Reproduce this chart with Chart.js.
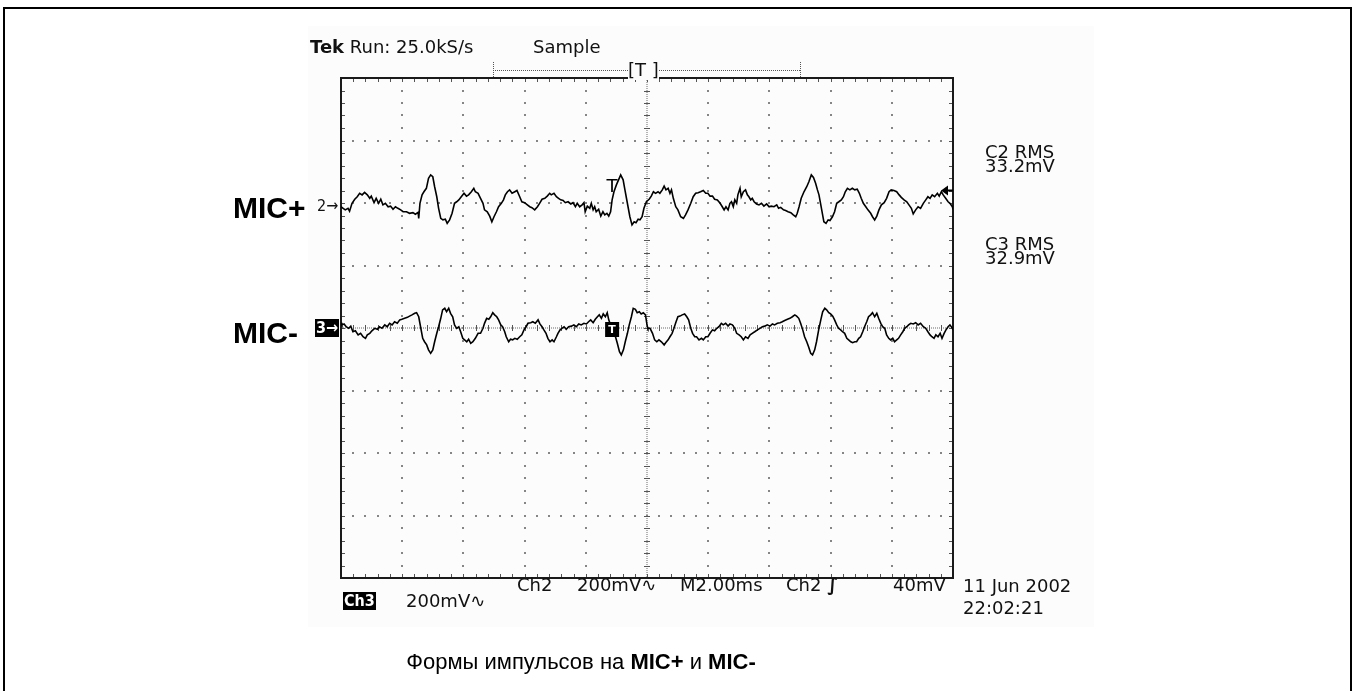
<!DOCTYPE html>
<html>
<head>
<meta charset="utf-8">
<script src="https://cdn.jsdelivr.net/npm/chart.js@4.4.0/dist/chart.umd.min.js"></script>
<style>
  html, body { margin: 0; padding: 0; background: #fff; }
  #wrap { position: relative; width: 1356px; height: 691px; overflow: hidden; }
  #frame { position: absolute; left: 3px; top: 7px; width: 1349px; height: 690px; border: 2px solid #000; box-sizing: border-box; }
  #screen { position: absolute; left: 308px; top: 26px; width: 786px; height: 601px; background: #fcfcfc; }
  #scope { position: absolute; left: 0; top: 0; }
  .t { position: absolute; font-family: "DejaVu Sans", sans-serif; font-size: 18px; line-height: 20px; color: #111; white-space: pre; }
  .b { font-weight: bold; }
  .inv { background: #000; color: #fff; font-family: "DejaVu Sans Condensed", "DejaVu Sans", sans-serif; font-weight: bold; font-size: 16px; line-height: 18px; padding: 0 1px; }
  .mk { font-family: "DejaVu Sans Condensed", "DejaVu Sans", sans-serif; font-size: 16px; }
  .mic { position: absolute; font-family: "Liberation Sans", Arial, sans-serif; font-weight: bold; font-size: 30px; line-height: 34px; color: #000; white-space: pre; }
  #caption { position: absolute; left: 0; width: 1162px; top: 648px; text-align: center; font-family: "Liberation Sans", Arial, sans-serif; font-size: 22px; line-height: 28px; color: #000; white-space: pre; }
  .rec { position: absolute; border-top: 1px dotted #555; }
  .recEnd { position: absolute; border-left: 1px dotted #555; }
</style>
</head>
<body>
<div id="wrap">
  <div id="frame"></div>
  <div id="screen"></div>
  <canvas id="scope" width="1356" height="691"></canvas>

  <div class="t" style="left:310px;top:37px;"><span class="b">Tek</span> Run: 25.0kS/s</div>
  <div class="t" style="left:533px;top:37px;">Sample</div>
  <div class="rec" style="left:493px;top:70px;width:307px;"></div>
  <div class="recEnd" style="left:493px;top:62px;height:15px;"></div>
  <div class="recEnd" style="left:800px;top:62px;height:15px;"></div>
  <div class="t" style="left:628px;top:60px;background:#fcfcfc;">[T ]</div>

  <div class="t" style="left:985px;top:145px;line-height:14px;">C2 RMS<br>33.2mV</div>
  <div class="t" style="left:985px;top:237px;line-height:14px;">C3 RMS<br>32.9mV</div>

  <div class="mic" style="left:233px;top:191px;">MIC+</div>
  <div class="t mk" style="left:317px;top:196px;">2→</div>
  <div class="mic" style="left:233px;top:316px;">MIC-</div>
  <div class="t inv" style="left:315px;top:319px;">3→</div>

  <div class="t" style="left:517px;top:575px;">Ch2</div>
  <div class="t" style="left:577px;top:575px;">200mV∿</div>
  <div class="t" style="left:680px;top:575px;">M2.00ms</div>
  <div class="t" style="left:786px;top:575px;">Ch2 <span class="b">∫</span></div>
  <div class="t" style="left:893px;top:575px;">40mV</div>
  <div class="t" style="left:963px;top:576px;">11 Jun 2002</div>
  <div class="t inv" style="left:343px;top:592px;">Ch3</div>
  <div class="t" style="left:406px;top:591px;">200mV∿</div>
  <div class="t" style="left:963px;top:598px;">22:02:21</div>

  <div id="caption">Формы импульсов на <b>MIC+</b> и <b>MIC-</b></div>
</div>

<script>
// Acquisition window: 10 divisions of 2 ms, 8 divisions of 200 mV
const MS_PER_DIV = 2;
const MV_PER_DIV = 200;
const X_DIVS = 10;
const Y_DIVS = 8;
const CH2_OFFSET_DIV = 2;   // Ch2 ground marker sits two divisions above centre
const TRIGGER_LEVEL_MV = 40;
const TRIGGER_MARK_MS = -1.14;

// Ch2 (MIC+) samples: [time ms, mV]
const ch2Trace = [
  [-10.00,-12],[-9.93,-17],[-9.86,-22],[-9.77,-17],[-9.72,-26],[-9.64,-1],[-9.55,12],[-9.47,20],[-9.39,31],[-9.31,26],
  [-9.23,34],[-9.14,26],[-9.06,15],[-9.01,22],[-8.92,1],[-8.85,15],[-8.77,-1],[-8.70,12],[-8.63,-6],[-8.55,-1],
  [-8.46,-12],[-8.38,-10],[-8.30,-20],[-8.22,-12],[-8.14,-17],[-8.05,-22],[-7.97,-28],[-7.86,-28],[-7.76,-33],[-7.65,-31],
  [-7.57,-36],[-7.48,-30],[-7.46,-49],[-7.42,-1],[-7.35,26],[-7.29,36],[-7.21,47],[-7.14,79],[-7.07,90],[-7.00,84],
  [-6.94,52],[-6.87,20],[-6.81,-17],[-6.74,-49],[-6.67,-54],[-6.59,-52],[-6.53,-65],[-6.45,-54],[-6.37,-33],[-6.29,-1],
  [-6.22,4],[-6.15,10],[-6.07,20],[-5.98,31],[-5.90,22],[-5.83,26],[-5.74,36],[-5.66,47],[-5.61,36],[-5.52,31],
  [-5.44,15],[-5.36,-1],[-5.31,-22],[-5.22,-28],[-5.14,-42],[-5.07,-60],[-5.00,-44],[-4.92,-28],[-4.85,-12],[-4.76,-1],
  [-4.69,10],[-4.63,26],[-4.56,36],[-4.49,42],[-4.41,31],[-4.32,36],[-4.25,40],[-4.16,20],[-4.09,4],[-4.00,1],
  [-3.91,-6],[-3.83,-12],[-3.76,-15],[-3.67,-22],[-3.58,-12],[-3.51,-1],[-3.43,12],[-3.34,15],[-3.26,22],[-3.18,31],
  [-3.13,26],[-3.04,31],[-2.96,20],[-2.89,15],[-2.82,10],[-2.74,8],[-2.67,1],[-2.58,4],[-2.49,-3],[-2.42,1],
  [-2.34,-12],[-2.28,-1],[-2.20,-12],[-2.12,-6],[-2.06,1],[-2.02,-28],[-1.95,-10],[-1.87,-17],[-1.82,-1],[-1.76,-22],
  [-1.71,-12],[-1.66,-28],[-1.58,-20],[-1.51,-42],[-1.44,-28],[-1.38,-38],[-1.31,-33],[-1.25,-42],[-1.19,-28],[-1.14,10],
  [-1.08,36],[-1.00,58],[-0.93,74],[-0.86,90],[-0.78,74],[-0.73,47],[-0.68,20],[-0.62,-12],[-0.56,-44],[-0.49,-70],
  [-0.42,-60],[-0.36,-63],[-0.29,-52],[-0.23,-54],[-0.16,-44],[-0.10,-17],[-0.02,4],
  [0.07,12],[0.14,22],[0.21,36],[0.28,31],[0.36,36],[0.42,31],[0.50,42],[0.56,54],[0.62,42],[0.69,47],
  [0.75,31],[0.80,42],[0.86,15],[0.94,-12],[1.01,-22],[1.10,-44],[1.19,-49],[1.26,-38],[1.34,-22],[1.43,-1],
  [1.51,20],[1.59,31],[1.67,33],[1.75,36],[1.84,40],[1.92,31],[1.99,31],[2.06,22],[2.14,22],[2.21,12],
  [2.30,10],[2.39,-1],[2.46,-12],[2.52,-22],[2.58,-12],[2.65,-22],[2.71,-1],[2.76,4],[2.82,-12],[2.87,10],
  [2.93,-1],[2.97,26],[3.04,47],[3.08,20],[3.15,36],[3.22,42],[3.28,26],[3.33,20],[3.39,10],[3.44,15],
  [3.50,4],[3.58,-3],[3.66,-6],[3.74,-1],[3.82,-10],[3.91,-3],[3.99,-12],[4.06,-10],[4.15,-12],[4.24,-6],
  [4.30,-17],[4.37,-14],[4.46,-22],[4.53,-24],[4.61,-28],[4.70,-31],[4.78,-38],[4.86,-44],[4.91,-33],[4.97,-12],
  [5.04,15],[5.13,36],[5.22,52],[5.29,68],[5.37,90],[5.44,82],[5.51,63],[5.57,42],[5.62,26],[5.68,-6],
  [5.73,-33],[5.78,-60],[5.85,-65],[5.92,-54],[5.98,-56],[6.06,-44],[6.13,-28],[6.20,-1],[6.27,4],[6.35,10],
  [6.42,20],[6.48,36],[6.55,47],[6.63,42],[6.71,47],[6.79,42],[6.87,44],[6.94,31],[7.00,15],[7.07,-1],
  [7.15,-12],[7.22,-22],[7.31,-33],[7.37,-44],[7.44,-54],[7.51,-42],[7.58,-22],[7.66,-6],[7.75,1],[7.83,15],
  [7.91,36],[7.98,42],[8.07,40],[8.16,36],[8.24,26],[8.31,18],[8.40,10],[8.49,4],[8.56,-6],[8.64,-17],
  [8.70,-35],[8.78,-22],[8.86,-12],[8.94,-17],[9.03,-1],[9.11,10],[9.18,20],[9.25,15],[9.32,26],[9.40,20],
  [9.49,31],[9.55,22],[9.62,36],[9.68,26],[9.76,15],[9.84,4],[9.90,-1],[9.98,-12],[10.00,-20]
];

// Ch3 (MIC-) samples: [time ms, mV]
const ch3Trace = [
  [-10.00,17],[-9.97,10],[-9.90,13],[-9.83,4],[-9.75,-1],[-9.68,6],[-9.61,-12],[-9.53,-9],[-9.44,-22],[-9.36,-17],
  [-9.28,-28],[-9.20,-33],[-9.14,-22],[-9.06,-17],[-8.99,-9],[-8.90,-1],[-8.81,-4],[-8.74,4],[-8.66,-1],[-8.57,10],
  [-8.49,4],[-8.41,15],[-8.33,10],[-8.25,20],[-8.16,15],[-8.08,26],[-8.01,28],[-7.92,31],[-7.83,34],[-7.76,38],
  [-7.68,42],[-7.59,47],[-7.53,49],[-7.46,36],[-7.40,4],[-7.33,-33],[-7.27,-44],[-7.20,-54],[-7.14,-70],[-7.07,-81],
  [-7.00,-70],[-6.94,-44],[-6.87,-17],[-6.81,4],[-6.74,31],[-6.68,58],[-6.61,63],[-6.55,52],[-6.48,63],[-6.42,47],
  [-6.35,36],[-6.29,10],[-6.22,-1],[-6.15,4],[-6.09,-12],[-6.02,-33],[-5.96,-38],[-5.89,-44],[-5.83,-36],[-5.76,-49],
  [-5.69,-44],[-5.61,-33],[-5.52,-17],[-5.44,-17],[-5.36,-1],[-5.31,15],[-5.24,31],[-5.17,28],[-5.11,36],[-5.04,49],
  [-4.98,42],[-4.91,36],[-4.85,26],[-4.78,10],[-4.72,4],[-4.65,-12],[-4.60,-28],[-4.52,-44],[-4.46,-36],[-4.39,-38],
  [-4.32,-33],[-4.24,-36],[-4.16,-28],[-4.09,-22],[-4.02,-6],[-3.95,4],[-3.89,15],[-3.80,17],[-3.73,20],[-3.65,15],
  [-3.56,26],[-3.50,13],[-3.43,4],[-3.37,-6],[-3.30,-17],[-3.24,-33],[-3.17,-44],[-3.10,-38],[-3.04,-44],[-2.96,-28],
  [-2.91,-17],[-2.84,-6],[-2.78,-1],[-2.71,4],[-2.64,-4],[-2.56,4],[-2.47,6],[-2.39,10],[-2.31,4],[-2.23,13],
  [-2.15,10],[-2.06,15],[-1.98,13],[-1.91,20],[-1.84,26],[-1.76,17],[-1.69,28],[-1.62,36],[-1.56,42],[-1.49,31],
  [-1.43,45],[-1.36,36],[-1.30,49],[-1.25,26],[-1.21,15],[-1.17,4],[-1.10,-6],[-1.03,-28],[-0.97,-49],[-0.90,-76],
  [-0.84,-86],[-0.77,-70],[-0.71,-44],[-0.64,-17],[-0.58,10],[-0.51,36],[-0.45,63],[-0.38,60],[-0.32,49],[-0.25,52],
  [-0.19,45],[-0.12,49],[-0.05,42],[0.01,4],
  [0.03,-1],[0.10,-1],[0.18,-17],[0.25,-38],[0.32,-44],[0.39,-38],[0.47,-44],[0.56,-54],[0.61,-47],[0.69,-38],
  [0.75,-28],[0.82,-17],[0.88,-1],[0.95,20],[1.01,36],[1.08,38],[1.15,42],[1.23,45],[1.30,36],[1.36,26],
  [1.43,-1],[1.49,-17],[1.56,-28],[1.62,-28],[1.70,-38],[1.78,-33],[1.84,-38],[1.92,-28],[1.99,-28],[2.06,-17],
  [2.14,-6],[2.21,-9],[2.28,-1],[2.35,4],[2.43,15],[2.49,10],[2.57,15],[2.65,6],[2.71,13],[2.79,10],
  [2.87,-1],[2.93,-17],[3.01,-22],[3.08,-28],[3.15,-38],[3.22,-28],[3.30,-33],[3.37,-22],[3.44,-17],[3.52,-12],
  [3.61,-6],[3.69,-1],[3.77,4],[3.85,6],[3.93,10],[4.02,6],[4.10,13],[4.17,10],[4.26,15],[4.35,17],
  [4.42,20],[4.50,24],[4.59,28],[4.67,31],[4.75,36],[4.83,42],[4.89,38],[4.96,31],[5.02,15],[5.09,-6],
  [5.15,-28],[5.22,-44],[5.28,-60],[5.35,-81],[5.41,-86],[5.48,-70],[5.54,-44],[5.61,-6],[5.68,26],[5.74,52],
  [5.81,63],[5.87,58],[5.94,49],[6.00,45],[6.07,38],[6.13,26],[6.20,10],[6.26,-1],[6.33,-6],[6.39,-12],
  [6.46,-17],[6.53,-33],[6.59,-38],[6.66,-44],[6.72,-47],[6.79,-44],[6.85,-44],[6.92,-33],[6.98,-28],[7.05,-12],
  [7.11,4],[7.18,20],[7.24,36],[7.31,42],[7.37,49],[7.44,36],[7.51,47],[7.57,31],[7.64,15],[7.70,4],
  [7.77,-1],[7.83,-22],[7.90,-33],[7.96,-38],[8.03,-33],[8.09,-44],[8.16,-38],[8.22,-33],[8.29,-22],[8.36,-12],
  [8.42,-1],[8.49,4],[8.55,10],[8.62,15],[8.70,13],[8.78,17],[8.86,10],[8.94,15],[9.03,4],[9.11,-1],
  [9.18,-12],[9.25,-22],[9.31,-28],[9.38,-33],[9.44,-22],[9.51,-28],[9.58,-17],[9.64,-33],[9.71,-17],[9.77,-6],
  [9.84,4],[9.90,10],[9.98,-1],[10.00,-6]
];

const X_MIN = -X_DIVS / 2 * MS_PER_DIV;
const X_MAX = X_DIVS / 2 * MS_PER_DIV;
const Y3_MIN = -Y_DIVS / 2 * MV_PER_DIV;
const Y3_MAX = Y_DIVS / 2 * MV_PER_DIV;
const Y2_MIN = Y3_MIN - CH2_OFFSET_DIV * MV_PER_DIV;
const Y2_MAX = Y3_MAX - CH2_OFFSET_DIV * MV_PER_DIV;

// Tektronix-style graticule: dotted divisions, ticked centre cross, ticked frame
const graticule = {
  id: 'graticule',
  beforeDatasetsDraw(chart) {
    const { ctx, chartArea: a, scales } = chart;
    const px = v => scales.x.getPixelForValue(v);
    const py = v => scales.y3.getPixelForValue(v);
    const xMinor = MS_PER_DIV / 5, yMinor = MV_PER_DIV / 5;
    ctx.save();

    ctx.fillStyle = '#858585';
    for (let i = 1; i < X_DIVS; i++) {
      if (i === X_DIVS / 2) continue;
      const gx = Math.round(px(X_MIN + i * MS_PER_DIV));
      for (let j = 1; j < Y_DIVS * 5; j++) {
        ctx.fillRect(gx - 1, Math.round(py(Y3_MIN + j * yMinor)) - 1, 2, 2);
      }
    }
    for (let i = 1; i < Y_DIVS; i++) {
      if (i === Y_DIVS / 2) continue;
      const gy = Math.round(py(Y3_MIN + i * MV_PER_DIV));
      for (let j = 1; j < X_DIVS * 5; j++) {
        ctx.fillRect(Math.round(px(X_MIN + j * xMinor)) - 1, gy - 1, 2, 2);
      }
    }

    // centre cross
    const cx = Math.round(px(0)), cy = Math.round(py(0));
    ctx.fillStyle = '#6a6a6a';
    for (let yy = a.top; yy < a.bottom; yy += 2) ctx.fillRect(cx - 0.5, yy, 1, 1);
    for (let xx = a.left; xx < a.right; xx += 2) ctx.fillRect(xx, cy - 0.5, 1, 1);
    ctx.strokeStyle = '#555';
    ctx.lineWidth = 1;
    ctx.beginPath();
    for (let j = 1; j < Y_DIVS * 5; j++) {
      const yy = Math.round(py(Y3_MIN + j * yMinor)) + 0.5;
      ctx.moveTo(cx - 3, yy); ctx.lineTo(cx + 3, yy);
      ctx.moveTo(a.left, yy); ctx.lineTo(a.left + 4, yy);
      ctx.moveTo(a.right - 4, yy); ctx.lineTo(a.right, yy);
    }
    for (let j = 1; j < X_DIVS * 5; j++) {
      const xx = Math.round(px(X_MIN + j * xMinor)) + 0.5;
      ctx.moveTo(xx, cy - 3); ctx.lineTo(xx, cy + 3);
      ctx.moveTo(xx, a.top); ctx.lineTo(xx, a.top + 4);
      ctx.moveTo(xx, a.bottom - 4); ctx.lineTo(xx, a.bottom);
    }
    ctx.stroke();

    ctx.strokeStyle = '#1a1a1a';
    ctx.lineWidth = 2;
    ctx.strokeRect(a.left, a.top, a.right - a.left, a.bottom - a.top);
    ctx.restore();
  },
  afterDatasetsDraw(chart) {
    const { ctx, chartArea: a, scales } = chart;
    const tx = scales.x.getPixelForValue(TRIGGER_MARK_MS);
    const ty = scales.y2.getPixelForValue(TRIGGER_LEVEL_MV);
    ctx.save();
    // trigger point on Ch2
    ctx.fillStyle = '#000';
    ctx.font = '18px "DejaVu Sans"';
    ctx.textAlign = 'center';
    ctx.textBaseline = 'middle';
    ctx.fillText('T', tx, ty - 3);
    // trigger point box on Ch3
    const by = scales.y3.getPixelForValue(0);
    ctx.fillRect(tx - 7, by - 6, 14, 15);
    ctx.fillStyle = '#fff';
    ctx.font = 'bold 11px "DejaVu Sans"';
    ctx.fillText('T', tx, by + 2);
    // trigger level arrow on the right edge
    ctx.fillStyle = '#000';
    ctx.beginPath();
    ctx.moveTo(a.right - 12, ty);
    ctx.lineTo(a.right - 5, ty - 5);
    ctx.lineTo(a.right - 5, ty + 5);
    ctx.closePath();
    ctx.fill();
    ctx.fillRect(a.right - 6, ty - 1, 6, 2);
    ctx.restore();
  }
};

const toPoints = trace => trace.map(([t, mv]) => ({ x: t, y: mv }));

new Chart(document.getElementById('scope'), {
  type: 'line',
  data: {
    datasets: [
      { label: 'MIC+', data: toPoints(ch2Trace), yAxisID: 'y2', borderColor: '#000', borderWidth: 1.6, pointRadius: 0, tension: 0, fill: false },
      { label: 'MIC-', data: toPoints(ch3Trace), yAxisID: 'y3', borderColor: '#000', borderWidth: 1.6, pointRadius: 0, tension: 0, fill: false }
    ]
  },
  options: {
    responsive: false,
    animation: false,
    devicePixelRatio: 1,
    layout: { padding: { left: 341, top: 78, right: 403, bottom: 113 } },
    plugins: { legend: { display: false }, tooltip: { enabled: false }, title: { display: false } },
    scales: {
      x: { type: 'linear', min: X_MIN, max: X_MAX, display: false },
      y2: { type: 'linear', min: Y2_MIN, max: Y2_MAX, display: false },
      y3: { type: 'linear', min: Y3_MIN, max: Y3_MAX, display: false }
    }
  },
  plugins: [graticule]
});
</script>
</body>
</html>
